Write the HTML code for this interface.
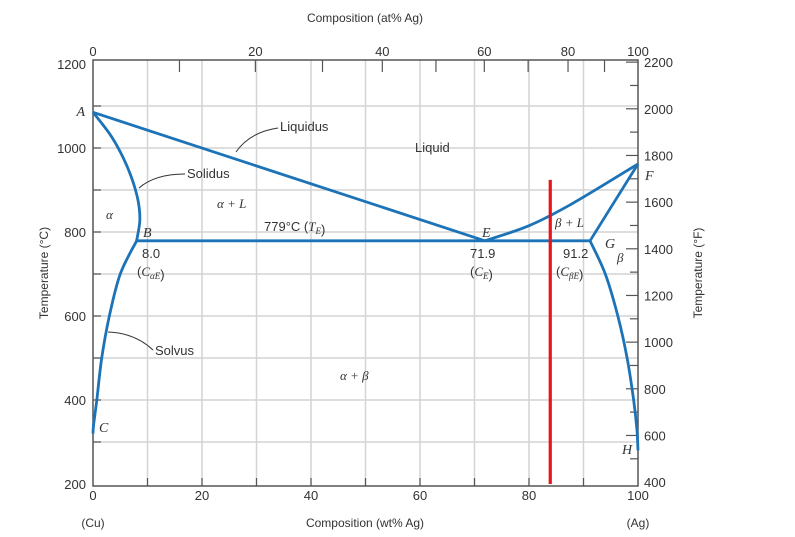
<!DOCTYPE html>
<html><head><meta charset="utf-8"><style>
body{margin:0;background:#fff;}
svg{display:block;font-family:"Liberation Sans",sans-serif;}
.it{font-family:"Liberation Serif",serif;font-style:italic;}
</style></head><body>
<svg id="chart" width="795" height="537" viewBox="0 0 795 537" xmlns="http://www.w3.org/2000/svg">
<g id="grid"></g>
<g id="axes"></g>
<g id="curves"></g>
<g id="labels"></g>
</svg>
<script>
const xTicksWt=[0,20,40,60,80,100];
const yTicksC=[200,400,600,800,1000,1200];
const yTicksF=[400,600,800,1000,1200,1400,1600,1800,2000,2200];
const xTicksAt=[0,20,40,60,80,100];
const liquidusLeft=[[0,1085],[71.9,779]];
const liquidusRight=[[71.9,779],[80,815],[88,868],[100,962]];
const solidusLeft=[[0,1085],[3.5,1025],[6.3,955],[8.1,885],[8.6,830],[8,779]];
const solvusLeft=[[8,779],[5,700],[3,600],[1.6,500],[0.7,400],[0.1,340],[0,320]];
const solidusRight=[[100,962],[91.2,779]];
const solvusRight=[[91.2,779],[94,700],[96.3,600],[98,500],[99.2,400],[99.8,330],[100,280]];
const eutecticLine=[[8,779],[91.2,779]];
const redLine=[[83.9,924],[83.9,200]];

const X0=93,X1=638,Y200=484,PX=0.42;
const sx=w=>X0+(X1-X0)*w/100;
const sy=t=>Y200-(t-200)*PX;
const syF=f=>sy((f-32)/1.8);
const atToWt=a=>100*a*107.87/(a*107.87+(100-a)*63.55);
const NS='http://www.w3.org/2000/svg';
function mk(tag,attrs,parent,text){const e=document.createElementNS(NS,tag);for(const k in attrs)e.setAttribute(k,attrs[k]);if(text!==undefined)e.textContent=text;parent.appendChild(e);return e;}
const grid=document.getElementById('grid'),axes=document.getElementById('axes'),curves=document.getElementById('curves'),labels=document.getElementById('labels');
for(let w=10;w<100;w+=10){const l=mk('line',{x1:sx(w),x2:sx(w),y1:60,y2:486,stroke:'#d4d4d4','stroke-width':1.5},grid);

}
for(let t=300;t<1200;t+=100){const l=mk('line',{x1:X0,x2:X1,y1:sy(t),y2:sy(t),stroke:'#d4d4d4','stroke-width':1.5},grid);

}
const box=mk('rect',{x:X0,y:60,width:X1-X0,height:426,fill:'none',stroke:'#555','stroke-width':1.5},axes);


xTicksWt.forEach(w=>{const t=mk('text',{x:sx(w),y:500,'text-anchor':'middle','font-size':13,fill:'#333'},axes,w);

});
for(let w=10;w<100;w+=10){mk('line',{x1:sx(w),x2:sx(w),y1:486,y2:478,stroke:'#555','stroke-width':1.2},axes);}
yTicksC.forEach(c=>{const t=mk('text',{x:86,y:sy(c)+5,'text-anchor':'end','font-size':13,fill:'#333'},axes,c);

});
for(let c=300;c<1200;c+=100){mk('line',{x1:X0,x2:X0+8,y1:sy(c),y2:sy(c),stroke:'#555','stroke-width':1.2},axes);}
for(let f=500;f<=2200;f+=100){mk('line',{x1:X1-(f%200==0?12:8),x2:X1,y1:syF(f),y2:syF(f),stroke:'#555','stroke-width':1.2},axes);}
yTicksF.forEach(f=>{const t=mk('text',{x:644,y:syF(f)+5,'font-size':13,fill:'#333'},axes,f);

});
for(let a=10;a<100;a+=10){mk('line',{x1:sx(atToWt(a)),x2:sx(atToWt(a)),y1:60,y2:72,stroke:'#555','stroke-width':1.2},axes);}
xTicksAt.forEach(a=>{const t=mk('text',{x:sx(atToWt(a)),y:56,'text-anchor':'middle','font-size':13,fill:'#333'},axes,a);

});
function txt(x,y,s,name,opts){const t=mk('text',Object.assign({x:x,y:y,'font-size':13,fill:'#333'},opts||{}),labels,s);return t;}
function sub(t,s){mk('tspan',{'font-size':9,dy:3,'class':'it'},t,s);mk('tspan',{dy:-3},t,'');}
txt(365,22,'Composition (at% Ag)','x-axis-title-top',{'text-anchor':'middle','font-size':12});
txt(365,527,'Composition (wt% Ag)','x-axis-title-bottom',{'text-anchor':'middle','font-size':12});
txt(93,527,'(Cu)','cu-label',{'text-anchor':'middle','font-size':12});
txt(638,527,'(Ag)','ag-label',{'text-anchor':'middle','font-size':12});
txt(0,0,'Temperature (°C)','y-axis-title-left',{'text-anchor':'middle','font-size':12,transform:'translate(48,273) rotate(-90)'});
txt(0,0,'Temperature (°F)','y-axis-title-right',{'text-anchor':'middle','font-size':12,transform:'translate(702,273) rotate(-90)'});
function line(pts,name,color,w,smooth){let d='M'+sx(pts[0][0])+','+sy(pts[0][1]);
if(smooth&&pts.length>2){for(let i=0;i<pts.length-1;i++){const p0=pts[Math.max(0,i-1)],p1=pts[i],p2=pts[i+1],p3=pts[Math.min(pts.length-1,i+2)];
const c1x=sx(p1[0])+(sx(p2[0])-sx(p0[0]))/6,c1y=sy(p1[1])+(sy(p2[1])-sy(p0[1]))/6,c2x=sx(p2[0])-(sx(p3[0])-sx(p1[0]))/6,c2y=sy(p2[1])-(sy(p3[1])-sy(p1[1]))/6;
d+=' C'+c1x+','+c1y+' '+c2x+','+c2y+' '+sx(p2[0])+','+sy(p2[1]);}}
else pts.slice(1).forEach(p=>d+=' L'+sx(p[0])+','+sy(p[1]));
const e=mk('path',{d:d,fill:'none',stroke:color,'stroke-width':w,'stroke-linejoin':'round'},curves);}
line(liquidusLeft,'liquidus-left','#1c73b8',2.8,false);
line(liquidusRight,'liquidus-right','#1c73b8',2.8,true);
line(solidusLeft,'solidus-left','#1c73b8',2.8,true);
line(solvusLeft,'solvus-left','#1c73b8',2.8,true);
line(solidusRight,'solidus-right','#1c73b8',2.8,false);
line(solvusRight,'solvus-right','#1c73b8',2.8,true);
line(eutecticLine,'eutectic-isotherm','#1c73b8',2.8,false);
line(redLine,'red-composition-line','#e8141b',3.2,false);
txt(85,116,'A','point-a',{'class':'it','text-anchor':'end','font-size':14});
txt(143,237,'B','point-b',{'class':'it','font-size':14});
txt(99,432,'C','point-c',{'class':'it','font-size':14});
txt(482,237,'E','point-e',{'class':'it','font-size':14});
txt(645,180,'F','point-f',{'class':'it','font-size':14});
txt(605,248,'G','point-g',{'class':'it','font-size':14});
txt(622,454,'H','point-h',{'class':'it','font-size':14});
txt(415,152,'Liquid','liquid-label');
txt(280,131,'Liquidus','liquidus-label');
txt(187,178,'Solidus','solidus-label');
txt(155,355,'Solvus','solvus-label');
txt(106,219,'α','alpha-label',{'class':'it'});
txt(217,208,'α + L','alpha-l-label',{'class':'it'});
const te=txt(264,231,'779°C (','eutectic-temp-label');
mk('tspan',{'class':'it'},te,'T');sub(te,'E');mk('tspan',{},te,')');
txt(555,227,'β + L','beta-l-label',{'class':'it'});
txt(617,262,'β','beta-label',{'class':'it'});
txt(340,380,'α + β','alpha-beta-label',{'class':'it'});
txt(142,258,'8.0','c-alpha-e-value');
const c1=txt(137,276,'(','c-alpha-e-label');mk('tspan',{'class':'it'},c1,'C');sub(c1,'αE');mk('tspan',{},c1,')');
txt(470,258,'71.9','c-e-value');
const c2=txt(470,276,'(','c-e-label');mk('tspan',{'class':'it'},c2,'C');sub(c2,'E');mk('tspan',{},c2,')');
txt(563,258,'91.2','c-beta-e-value');
const c3=txt(556,276,'(','c-beta-e-label');mk('tspan',{'class':'it'},c3,'C');sub(c3,'βE');mk('tspan',{},c3,')');
const arr=['M278,128 Q250,132 236,152','M185,174 Q155,174 139,188','M153,350 Q135,333 108,332'];
arr.forEach(a=>{const p=mk('path',{d:a,fill:'none',stroke:'#333','stroke-width':1},labels);});
</script>
</body></html>
